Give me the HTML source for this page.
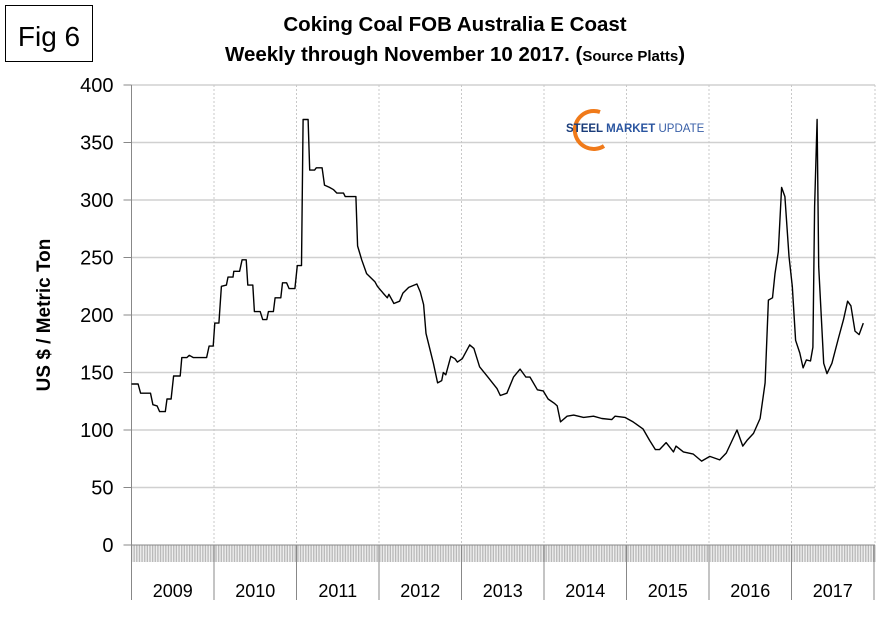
<!DOCTYPE html>
<html><head><meta charset="utf-8"><style>
body{margin:0;background:#fff;width:882px;height:622px;overflow:hidden;font-family:"Liberation Sans",sans-serif}
</style></head><body>
<svg id="chart" width="882" height="622" xmlns="http://www.w3.org/2000/svg" font-family="Liberation Sans, sans-serif">
<rect x="5.5" y="5.5" width="87" height="56" fill="#fff" stroke="#000" stroke-width="1"/>
<text x="49" y="46" font-size="28" text-anchor="middle">Fig 6</text>
<text x="455" y="31" font-size="20.5" font-weight="bold" text-anchor="middle">Coking Coal FOB Australia E Coast</text>
<text x="455" y="61" font-size="20.5" font-weight="bold" text-anchor="middle">Weekly through November 10 2017. (<tspan font-size="15">Source Platts</tspan>)</text>
<text transform="translate(50,315) rotate(-90)" font-size="19" font-weight="bold" text-anchor="middle">US $ / Metric Ton</text>
<g id="grid"></g><g id="axes"></g>
<g>
<path d="M600,112 A19,19 0 1,0 604,146" fill="none" stroke="#f07a1a" stroke-width="4"/>
<text x="566" y="132" font-size="11.5" font-weight="bold" fill="#1a3c7a">STEEL <tspan fill="#2a55a0">MARKET</tspan> <tspan font-weight="normal" fill="#3a60a8">UPDATE</tspan></text>
</g>
<path id="line" fill="none" stroke="#000" stroke-width="1.4" stroke-linejoin="round"/>
</svg>
<script>
const years=[2009,2010,2011,2012,2013,2014,2015,2016,2017];
const yTicks=[0,50,100,150,200,250,300,350,400];
const dates=[0.00,0.08,0.11,0.23,0.26,0.31,0.34,0.41,0.43,0.48,0.51,0.59,0.61,0.67,0.70,0.75,0.91,0.94,0.99,1.01,1.06,1.09,1.15,1.17,1.23,1.24,1.31,1.34,1.39,1.41,1.47,1.49,1.56,1.59,1.64,1.66,1.72,1.74,1.81,1.83,1.88,1.91,1.98,2.01,2.06,2.08,2.14,2.16,2.22,2.24,2.31,2.34,2.40,2.45,2.49,2.57,2.59,2.72,2.74,2.79,2.85,2.95,2.98,3.05,3.10,3.12,3.18,3.25,3.29,3.36,3.46,3.50,3.54,3.57,3.66,3.71,3.76,3.78,3.81,3.87,3.92,3.95,4.01,4.10,4.15,4.22,4.32,4.43,4.47,4.55,4.63,4.71,4.78,4.83,4.92,4.99,5.05,5.13,5.16,5.20,5.28,5.36,5.48,5.60,5.70,5.82,5.86,5.98,6.08,6.20,6.28,6.35,6.40,6.48,6.57,6.60,6.69,6.81,6.91,7.01,7.13,7.21,7.34,7.41,7.46,7.54,7.62,7.68,7.72,7.77,7.80,7.84,7.88,7.92,7.97,8.01,8.05,8.10,8.14,8.18,8.23,8.26,8.28,8.31,8.33,8.39,8.43,8.49,8.57,8.63,8.68,8.72,8.77,8.82,8.87];
const prices=[140,140,132,132,122,121,116,116,127,127,147,147,163,163,165,163,163,173,173,193,193,225,226,233,233,238,238,248,248,226,226,203,203,196,196,203,203,215,215,228,228,223,223,243,243,370,370,326,326,328,328,313,311,309,306,306,303,303,260,248,236,229,225,219,215,218,210,212,219,224,227,220,209,184,158,141,143,150,148,164,162,159,162,174,171,155,146,136,130,132,146,153,146,146,135,134,127,123,121,107,112,113,111,112,110,109,112,111,107,101,91,83,83,89,81,86,81,79,73,77,74,80,100,86,91,97,110,141,213,215,236,255,311,303,251,225,178,167,154,161,160,172,294,370,242,158,149,158,180,196,212,208,186,183,193];
const X0=131.5,PXY=82.5,Y0=545,PXV=1.15,XR=875;
const xs=t=>X0+t*PXY, ys=v=>Y0-v*PXV;
const NS="http://www.w3.org/2000/svg";
const grid=document.getElementById('grid'),axes=document.getElementById('axes');
function mk(tag,attrs,parent){const e=document.createElementNS(NS,tag);for(const k in attrs)e.setAttribute(k,attrs[k]);parent.appendChild(e);return e;}
yTicks.forEach(v=>{
  if(v>0){const g=mk('line',{x1:X0,x2:XR,y1:ys(v),y2:ys(v),stroke:'#d0d0d0','stroke-width':1.5},grid);
  
  }
  const tk=mk('line',{x1:X0-8,x2:X0,y1:ys(v),y2:ys(v),stroke:'#888'},axes);
  
  
  const t=mk('text',{x:X0-18,y:ys(v)+7,'font-size':20,'text-anchor':'end'},axes);t.textContent=v;
  
  
});
for(let i=1;i<=years.length;i++){
  const x=i<years.length?xs(i):XR;
  const g=mk('line',{x1:x,x2:x,y1:85,y2:Y0,stroke:'#c8c8c8','stroke-dasharray':'2,2'},grid);
  
  
}
for(let w=0;w<=462;w++){
  const x=X0+w*(XR-X0)/462;
  const l=mk('line',{x1:x,x2:x,y1:Y0,y2:562,stroke:'#a8a8a8','stroke-width':0.8},axes);
  
  
}
const ax=mk('line',{x1:X0,x2:XR,y1:Y0,y2:Y0,stroke:'#888'},axes);


const ay=mk('line',{x1:X0,x2:X0,y1:85,y2:600,stroke:'#888'},axes);


years.forEach((y,i)=>{
  const x1=xs(i+1)>XR?XR:xs(i+1);
  const s=mk('line',{x1:x1,x2:x1,y1:Y0,y2:600,stroke:'#888'},axes);
  
  
  const t=mk('text',{x:(xs(i)+x1)/2,y:597,'font-size':18,'text-anchor':'middle'},axes);t.textContent=y;
  
  
});
document.getElementById('line').setAttribute('d',dates.map((t,i)=>(i?'L':'M')+xs(t).toFixed(1)+','+ys(prices[i]).toFixed(1)).join(''));
</script>
</body></html>
